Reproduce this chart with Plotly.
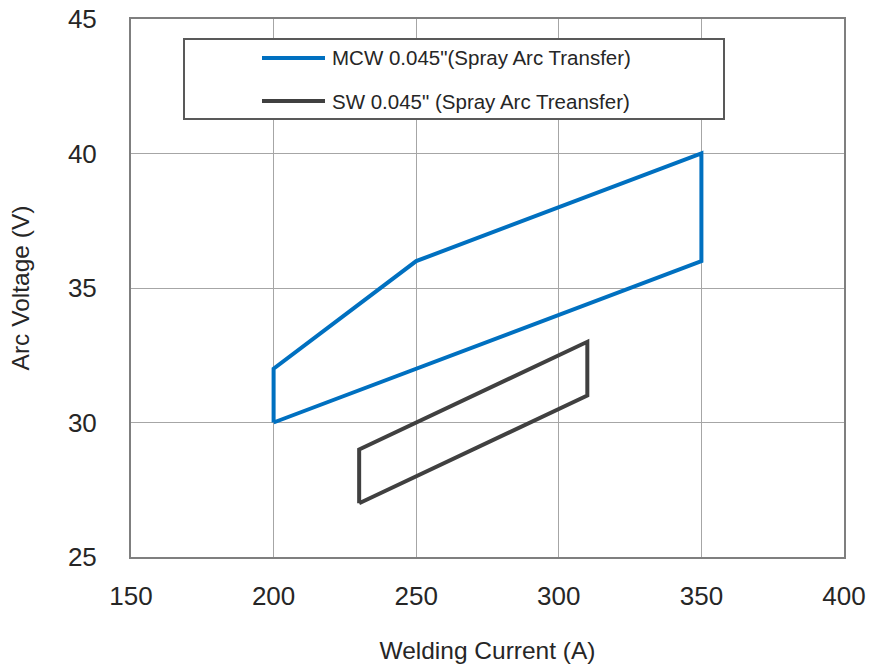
import plotly.graph_objects as go

# Data
mcw_current = [200, 350, 350, 250, 200, 200]
mcw_voltage = [30, 36, 40, 36, 32, 30]
sw_current = [230, 310, 310, 230, 230]
sw_voltage = [27, 31, 33, 29, 27]
series_names = ['MCW 0.045"(Spray Arc Transfer)', 'SW 0.045" (Spray Arc Treansfer)']
x_ticks = [150, 200, 250, 300, 350, 400]
y_ticks = [25, 30, 35, 40, 45]

BLUE = "#0070C0"
DARK = "#404040"
W, H = 870, 666
L, R, T, B = 131, 844, 19, 557

def px(x):
    return (x - L) / (R - L)

def py(y):
    return (B - y) / (B - T)

fig = go.Figure()
fig.add_trace(go.Scatter(x=mcw_current, y=mcw_voltage, mode="lines",
                         line=dict(color=BLUE, width=4), name=series_names[0],
                         showlegend=False))
fig.add_trace(go.Scatter(x=sw_current, y=sw_voltage, mode="lines",
                         line=dict(color=DARK, width=4), name=series_names[1],
                         showlegend=False))

FONT = "Liberation Sans, Arial, sans-serif"
tickfont = dict(family=FONT, size=26, color="#262626")
titlefont = dict(family=FONT, size=24.5, color="#262626")

fig.update_xaxes(range=[150, 400], tickvals=x_ticks, showgrid=True, gridcolor="#a6a6a6",
                 gridwidth=1, zeroline=False, showline=True, linecolor="#7f7f7f", linewidth=2,
                 mirror=True, tickfont=tickfont, ticks="", ticklabelstandoff=15, automargin=False,
                 ticklabeloverflow="allow",
                 title=dict(text="Welding Current (A)", font=titlefont, standoff=32))
fig.update_yaxes(range=[25, 45], tickvals=y_ticks, showgrid=True, gridcolor="#a6a6a6",
                 gridwidth=1, zeroline=False, showline=True, linecolor="#7f7f7f", linewidth=2,
                 mirror=True, tickfont=tickfont, ticks="", ticklabelstandoff=27, automargin=False,
                 ticklabeloverflow="allow",
                 title=dict(text="Arc Voltage (V)", font=titlefont, standoff=31))

# Manual legend
shapes = [
    dict(type="rect", xref="paper", yref="paper", x0=px(184), x1=px(724), y0=py(119), y1=py(39),
         line=dict(color="#595959", width=2), fillcolor="white", layer="above"),
    dict(type="line", xref="paper", yref="paper", x0=px(262), x1=px(325), y0=py(58), y1=py(58),
         line=dict(color=BLUE, width=4), layer="above"),
    dict(type="line", xref="paper", yref="paper", x0=px(262), x1=px(325), y0=py(101), y1=py(101),
         line=dict(color=DARK, width=4), layer="above"),
]
legfont = dict(family=FONT, size=20.5, color="#262626")
annotations = [
    dict(xref="paper", yref="paper", x=px(330), y=py(58), text=series_names[0], showarrow=False,
         xanchor="left", yanchor="middle", font=legfont),
    dict(xref="paper", yref="paper", x=px(330), y=py(101), text=series_names[1], showarrow=False,
         xanchor="left", yanchor="middle", font=legfont),
]

fig.update_layout(width=W, height=H, margin=dict(l=L, r=W - R, t=T, b=H - B, autoexpand=False),
                  plot_bgcolor="white", paper_bgcolor="white",
                  shapes=shapes, annotations=annotations, showlegend=False)

fig.write_html("out.html", config={"displayModeBar": False},
               post_script="document.body.style.margin='0';document.body.style.overflow='hidden';")
